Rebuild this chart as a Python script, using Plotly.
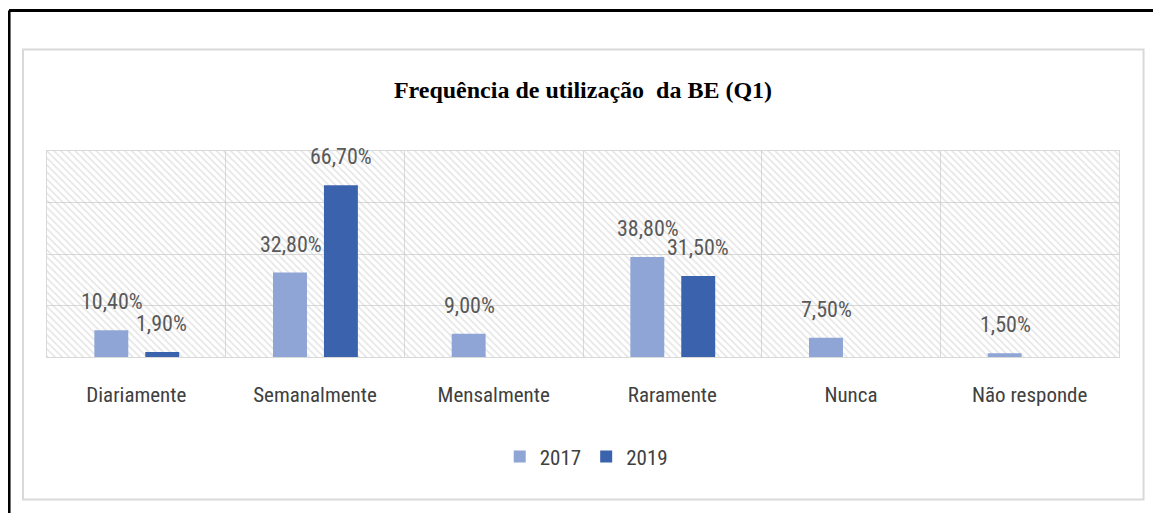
import plotly.graph_objects as go

# data
categorias = ['Diariamente', 'Semanalmente', 'Mensalmente', 'Raramente', 'Nunca', 'Não responde']
v2017 = [10.4, 32.8, 9.0, 38.8, 7.5, 1.5]
v2019 = [1.9, 66.7, None, 31.5, None, None]
y_max = 80

cor_2017 = '#8FA5D6'
cor_2019 = '#3B63AD'
fonte = 'Roboto Condensed, Liberation Sans Narrow, Roboto, sans-serif'


def rotulo(v):
    return f"{v:.2f}".replace('.', ',') + '%'


fig = go.Figure()

# hatched background of the plot area
fig.add_trace(go.Bar(x=categorias, y=[y_max] * len(categorias), width=1, offset=-0.5,
                     marker=dict(color='rgba(0,0,0,0)', line=dict(width=0),
                                 pattern=dict(shape='\\', fgcolor='#c9c9c9', size=5, solidity=0.3)),
                     showlegend=False, hoverinfo='skip'))

fig.add_trace(go.Bar(x=categorias, y=v2017, name='2017', width=0.19, offset=-0.235,
                     marker=dict(color=cor_2017, line=dict(width=0))))
fig.add_trace(go.Bar(x=categorias, y=v2019, name='2019', width=0.19, offset=0.05,
                     marker=dict(color=cor_2019, line=dict(width=0))))

# value labels
for serie, desloc in ((v2017, -24.5), (v2019, 25.5)):
    for cat, v in zip(categorias, serie):
        if v is None:
            continue
        fig.add_annotation(x=cat, y=v, text=rotulo(v), showarrow=False,
                           xshift=desloc, yshift=14, yanchor='bottom',
                           font=dict(family=fonte, size=22, color='#595959'))

# inner grey frame and outer black border
fig.add_shape(type='rect', xref='paper', yref='paper', x0=-0.0224, x1=1.0229, y0=-0.6917, y1=1.4927,
              line=dict(color='#d9d9d9', width=2), layer='below')
fig.add_shape(type='line', xref='paper', yref='paper', x0=-0.0354, x1=1.1, y0=1.682, y1=1.682,
              line=dict(color='black', width=3))
fig.add_shape(type='line', xref='paper', yref='paper', x0=-0.0354, x1=-0.0354, y0=1.682, y1=-0.8,
              line=dict(color='black', width=3))

fig.update_layout(
    width=1153, height=505,
    margin=dict(l=39, r=42, t=143, b=156),
    barmode='overlay',
    paper_bgcolor='white', plot_bgcolor='white',
    title=dict(text='Frequência de utilização\u00a0 da BE (Q1)', x=0.4987, xanchor='center',
               y=0.8376, yanchor='middle',
               font=dict(family='Liberation Serif, Times New Roman, serif', size=24, color='black', weight='bold')),
    legend=dict(orientation='h', x=0.503, xanchor='center', y=0.111, yref='container', yanchor='middle',
                font=dict(family=fonte, size=21, color='#404040'), traceorder='normal'),
    showlegend=True,
)
fig.update_xaxes(type='category', tickson='boundaries', showgrid=True, gridcolor='#d9d9d9', gridwidth=1,
                 showline=True, linecolor='#d9d9d9', linewidth=1, mirror=True,
                 ticks='', ticklabelstandoff=19,
                 tickfont=dict(family=fonte, size=21, color='#404040'), fixedrange=True)
fig.update_yaxes(range=[0, y_max], dtick=20, showgrid=True, gridcolor='#d9d9d9', gridwidth=1,
                 showline=True, linecolor='#d9d9d9', linewidth=1, mirror=True,
                 showticklabels=False, ticks='', zeroline=False, fixedrange=True)

fig.write_html("out.html")
